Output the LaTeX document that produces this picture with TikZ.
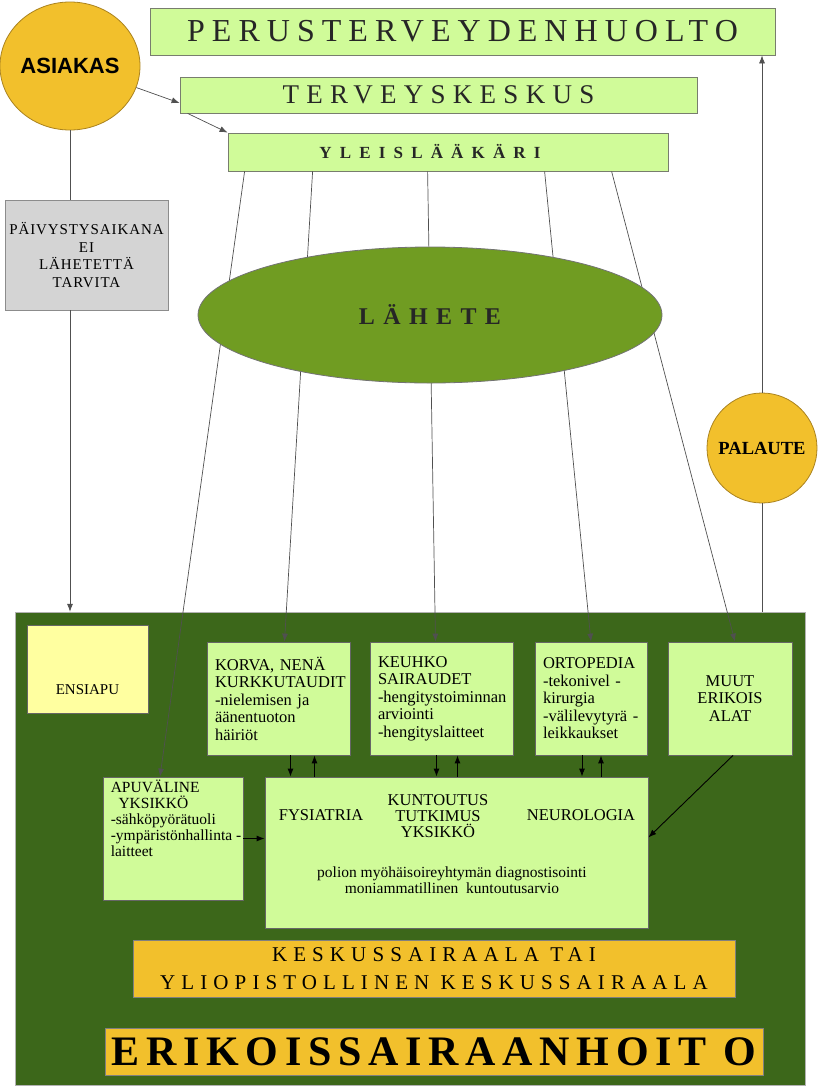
\documentclass[tikz,border=0pt]{standalone}
\usepackage{fontspec}
\setmainfont{Liberation Serif}
\newfontfamily\headsans{Liberation Sans}
\usetikzlibrary{shapes,arrows.meta,positioning}

\definecolor{paleGreen}{RGB}{208,251,153}
\definecolor{paleYellow}{RGB}{255,255,160}
\definecolor{paleGrey}{RGB}{212,212,212}
\definecolor{deepGreen}{RGB}{60,103,26}
\definecolor{oliveGreen}{RGB}{112,156,34}
\definecolor{goldFill}{RGB}{242,192,44}
\definecolor{goldLine}{RGB}{170,130,30}
\definecolor{lineGrey}{RGB}{80,80,80}
\definecolor{edgeGrey}{RGB}{120,125,110}

\begin{document}
\begin{tikzpicture}[
    x=1pt, y=-1pt,
    level/.style={draw=edgeGrey, fill=paleGreen, line width=0.8pt, inner sep=0pt, text=black!85},
    unit/.style={draw=black!60, fill=paleGreen, line width=0.8pt, inner sep=0pt,
                 align=left, font=\fontsize{16.5}{17.5}\selectfont},
    band/.style={draw=black!50, fill=goldFill, line width=0.8pt, inner sep=0pt, align=center},
    disc/.style={ellipse, draw=goldLine, fill=goldFill, line width=0.8pt, inner sep=0pt},
    txt/.style={inner sep=0pt, font=\fontsize{16.5}{17}\selectfont},
    flow/.style={-{Latex[length=8pt,width=6pt]}, line width=0.7pt, lineGrey},
    link/.style={line width=0.7pt, lineGrey},
    inflow/.style={-{Latex[length=8pt,width=6pt]}, line width=0.9pt, black}
]

\useasboundingbox (0,0) rectangle (821,1090);

% Top: primary care
\node[level, minimum width=625, minimum height=47,
      font=\fontsize{32}{32}\selectfont\addfontfeatures{LetterSpace=22}] (peru) at (462.5,31.5) {PERUSTERVEYDENHUOLTO};
\node[level, minimum width=517, minimum height=36,
      font=\fontsize{27}{27}\selectfont\addfontfeatures{LetterSpace=27}] (terv) at (438.5,95) {TERVEYSKESKUS};
\node[level, minimum width=440, minimum height=38,
      font=\fontsize{17}{17}\selectfont\bfseries\addfontfeatures{LetterSpace=48}] (ylei) at (448,152) {YLEISLÄÄKÄRI\rule{36pt}{0pt}};

\node[disc, minimum width=116, minimum height=128,
      font=\headsans\fontsize{22}{22}\selectfont\bfseries] (asiakas) at (70,66) {ASIAKAS};
\node[draw=black!45, fill=paleGrey, line width=0.8pt, minimum width=163, minimum height=110,
      inner sep=0pt, align=center,
      font=\fontsize{15}{17.7}\selectfont\addfontfeatures{LetterSpace=6}] (paiv) at (86.5,255)
      {PÄIVYSTYSAIKANA\\EI\\LÄHETETTÄ\\TARVITA};
\node[disc, circle, minimum size=110,
      font=\fontsize{18.5}{18.5}\selectfont\bfseries] (palaute) at (762,448) {PALAUTE};

% Bottom: specialised care
\node[draw=black!30, fill=deepGreen, minimum width=790, minimum height=473, inner sep=0pt] (bg) at (410,848.5) {};

\node[draw=black!60, fill=paleYellow, line width=0.8pt, minimum width=121, minimum height=88, inner sep=0pt] (ensiapu) at (87.5,669) {};
\node[txt, font=\fontsize{15}{17}\selectfont] (ensiapuTxt) at ([yshift=-21pt]ensiapu.center) {ENSIAPU};

\node[unit, minimum width=143, minimum height=113, text width=127] (korva) at (278.5,698.5)
    {KORVA, NENÄ\\KURKKUTAUDIT\\-nielemisen ja\\äänentuoton\\häiriöt};
\node[unit, minimum width=143, minimum height=113, text width=127] (keuhko) at (441.5,698.5)
    {KEUHKO\\SAIRAUDET\\\mbox{-hengitystoiminnan}\\arviointi\\-hengityslaitteet};
\node[unit, minimum width=112, minimum height=113, text width=96] (orto) at (591,698.5)
    {ORTOPEDIA\\-tekonivel -\\kirurgia\\\mbox{-välilevytyrä -}\\leikkaukset};
\node[unit, minimum width=124, minimum height=113, align=center] (muut) at (730,698.5)
    {MUUT\\ERIKOIS\\ALAT};

\node[unit, minimum width=140, minimum height=123] (apuv) at (173,838.5) {};
\node[txt, anchor=north west, align=left, font=\fontsize{15.5}{16}\selectfont] (apuvTxt) at ([xshift=8pt, yshift=-3pt]apuv.north west)
    {APUVÄLINE\\\ \ YKSIKKÖ\\-sähköpyörätuoli\\-ympäristönhallinta -\\laitteet};

\node[unit, minimum width=383, minimum height=151] (kunt) at (456.5,852.5) {};
\node[txt] (fys) at (321,815) {FYSIATRIA};
\node[txt, align=center, font=\fontsize{16.5}{16}\selectfont] (kty) at (438,816) {KUNTOUTUS\\TUTKIMUS\\YKSIKKÖ};
\node[txt] (neuro) at (581,815) {NEUROLOGIA};
\node[txt, align=center, font=\fontsize{15.5}{16}\selectfont] (polio) at (452,880)
    {polion myöhäisoireyhtymän diagnostisointi\\moniammatillinen~~kuntoutusarvio};

\node[band, minimum width=602, minimum height=57,
      font=\fontsize{21}{28}\selectfont\addfontfeatures{LetterSpace=29}] (kesk) at (434,968.5)
    {KESKUSSAIRAALA TAI\\YLIOPISTOLLINEN KESKUSSAIRAALA};
\node[band, minimum width=658, minimum height=47,
      font=\fontsize{42}{42}\selectfont\bfseries\addfontfeatures{LetterSpace=16}] (erikh) at (434,1051.5)
    {ERIKOISSAIRAANHOIT O};

% Customer paths
\draw[flow] (asiakas.-18) -- ([yshift=-8pt]terv.west);
\draw[flow] ([xshift=8pt]terv.south west) -- (ylei.north west);
\draw[link] (asiakas.south) -- (asiakas.south |- paiv.north);
\draw[flow] (asiakas.south |- paiv.south) -- (asiakas.south |- bg.north);

% Referrals (under the ellipse)
\draw[flow] ([xshift=17pt]ylei.south west) -- ([xshift=-13pt]apuv.north);
\draw[flow] ([xshift=85pt]ylei.south west) -- ([xshift=6pt]korva.north);
\draw[flow] ([xshift=200pt]ylei.south west) -- ([xshift=-6pt]keuhko.north);
\draw[flow] ([xshift=317pt]ylei.south west) -- (orto.north);
\draw[flow] ([xshift=384pt]ylei.south west) -- ([xshift=5pt]muut.north);

\node[ellipse, draw=black!55, fill=oliveGreen, line width=0.8pt, minimum width=464, minimum height=136,
      inner sep=0pt, text=black!85,
      font=\fontsize{24}{24}\selectfont\bfseries\addfontfeatures{LetterSpace=35}] (lahete) at (430,315) {LÄHETE};

% Feedback
\draw[link] (palaute.south |- bg.north) -- (palaute.south);
\draw[flow] (palaute.north) -- (palaute.north |- peru.south);

% Inside the hospital
\foreach \src/\dn/\up in {korva/12/36, keuhko/-5/16, orto/-9/10} {
    \draw[inflow] ([xshift=\dn pt]\src.south) -- ([xshift=\dn pt]\src.south |- kunt.north);
    \draw[inflow] ([xshift=\up pt]\src.south |- kunt.north) -- ([xshift=\up pt]\src.south);
}
\draw[inflow] (apuv.east) -- (apuv.east -| kunt.west);
\draw[inflow] ([xshift=3pt]muut.south) -- ([yshift=15pt]kunt.east);

\end{tikzpicture}
\end{document}
